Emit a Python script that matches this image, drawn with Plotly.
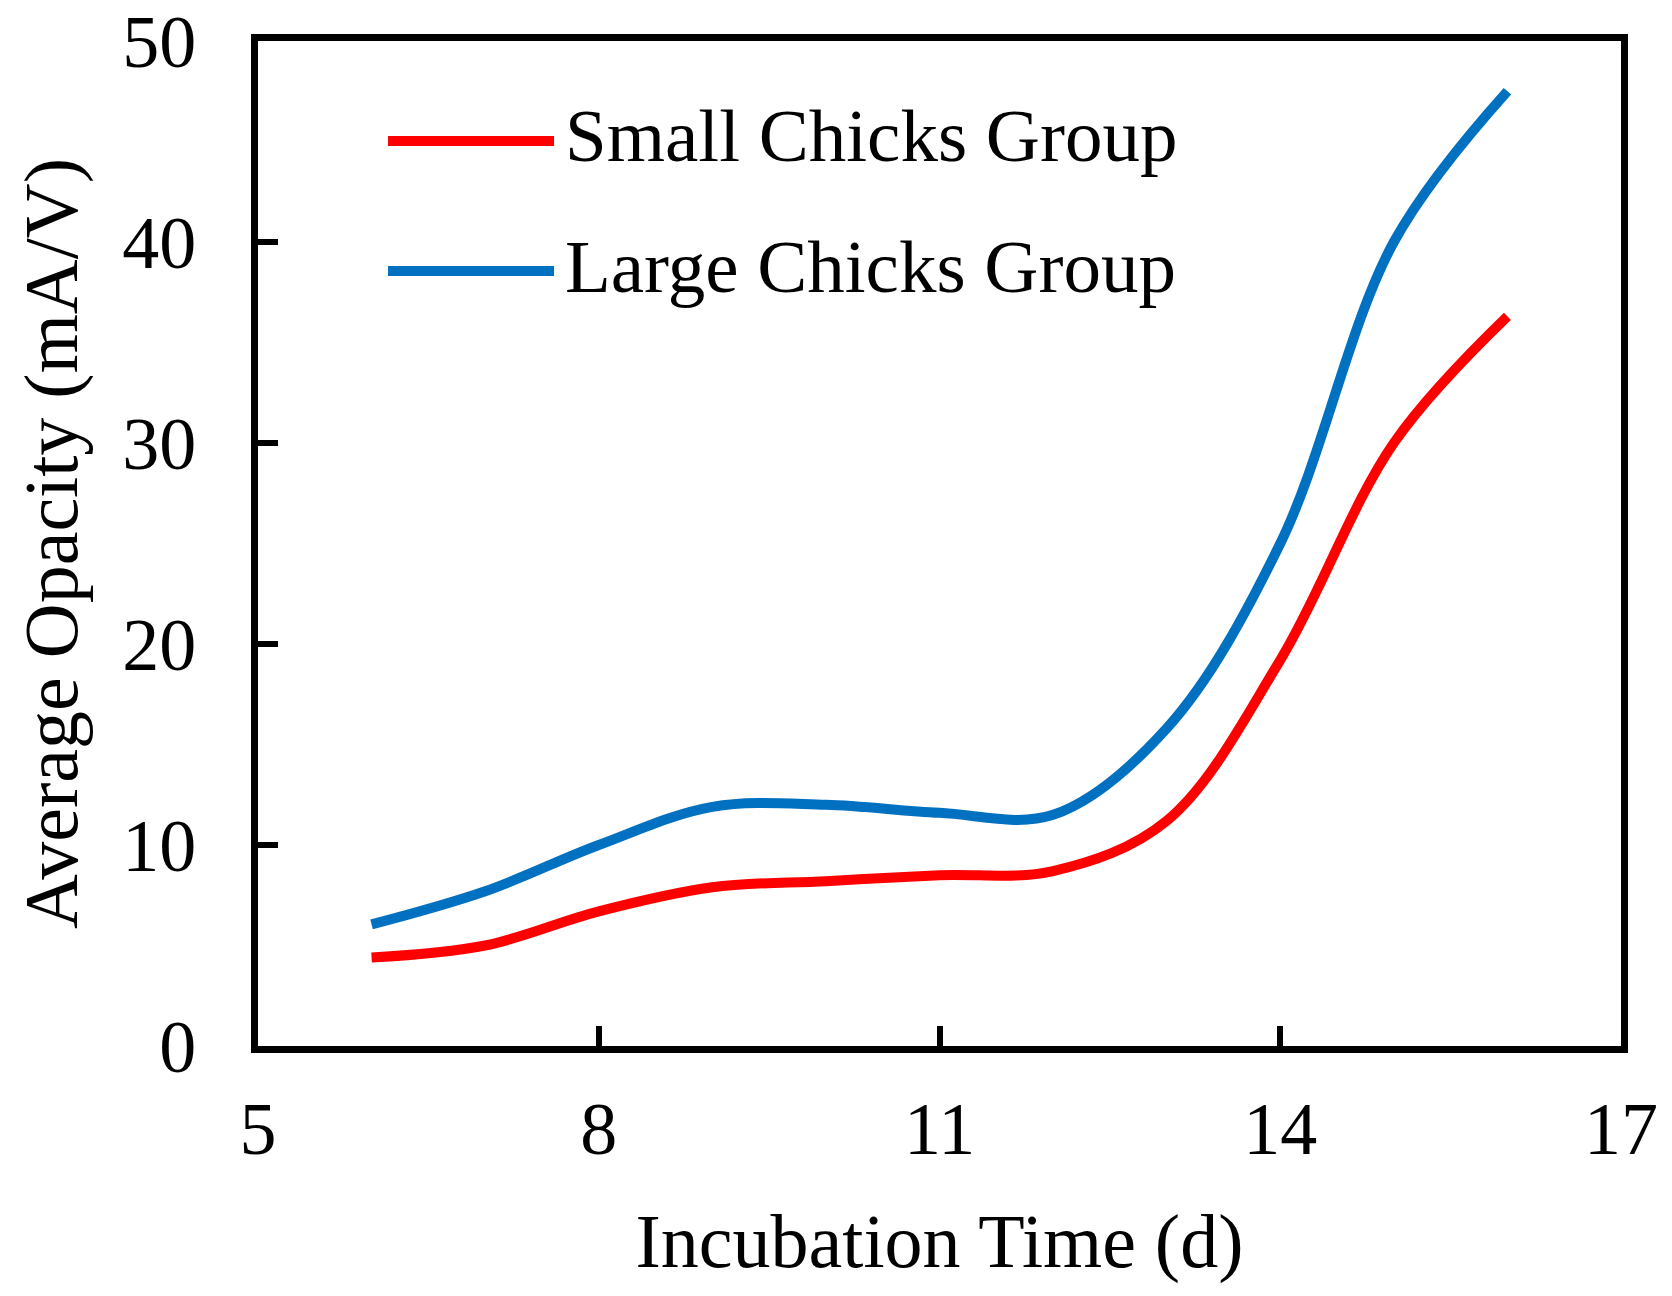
import plotly.graph_objects as go

# ---- data ----
days = [6, 7, 8, 9, 10, 11, 12, 13, 14, 15, 16]
small_group = [4.4, 5.0, 6.7, 7.9, 8.2, 8.5, 8.7, 11.2, 19.2, 30.0, 36.3]
large_group = [6.05, 7.7, 10.0, 11.9, 12.0, 11.6, 11.5, 15.8, 25.0, 40.0, 47.5]
series_names = ["Small Chicks Group", "Large Chicks Group"]
series_colors = ["#FF0000", "#0070C0"]
x_ticks = [5, 8, 11, 14, 17]
y_ticks = [0, 10, 20, 30, 40, 50]
x_title = "Incubation Time (d)"
y_title = "Average Opacity (mA/V)"

FONT = "Liberation Serif, Times New Roman, serif"

fig = go.Figure()
for name, ys, col in zip(series_names, [small_group, large_group], series_colors):
    fig.add_trace(go.Scatter(
        x=days, y=ys, name=name, mode="lines",
        line=dict(color=col, width=10, shape="spline", smoothing=1.0),
        showlegend=False,
    ))

# manual legend (long line samples like the reference)
legend_rows = [0.9005, 0.7711]
for name, col, yy in zip(series_names, series_colors, legend_rows):
    fig.add_shape(type="line", xref="paper", yref="paper",
                  x0=0.0954, x1=0.2172, y0=yy, y1=yy,
                  line=dict(color=col, width=10))
    fig.add_annotation(xref="paper", yref="paper", x=0.224, y=yy, yshift=5,
                       text=name, showarrow=False, xanchor="left", yanchor="middle",
                       font=dict(family=FONT, size=75, color="black"))

axis_common = dict(
    showline=True, linecolor="black", linewidth=7, mirror=True,
    ticks="inside", ticklen=20, tickwidth=6, tickcolor="black",
    showgrid=False, zeroline=False, ticklabeloverflow="allow",
    tickfont=dict(family=FONT, size=74, color="black"),
)

fig.update_xaxes(range=[5, 17], tickvals=x_ticks, ticktext=[str(v) for v in x_ticks],
                 title=dict(text=x_title, font=dict(family=FONT, size=76, color="black"), standoff=50),
                 ticklabelstandoff=12, **axis_common)
fig.update_yaxes(range=[0, 50], tickvals=y_ticks, ticktext=[str(v) for v in y_ticks],
                 title=dict(text=y_title, font=dict(family=FONT, size=76, color="black"), standoff=22),
                 ticklabelstandoff=40, **axis_common)

fig.update_layout(
    width=1654, height=1276,
    margin=dict(l=250, r=41, t=33, b=238, autoexpand=False),
    paper_bgcolor="white", plot_bgcolor="white",
    font=dict(family=FONT, color="black"),
)

fig.write_html("out.html")
